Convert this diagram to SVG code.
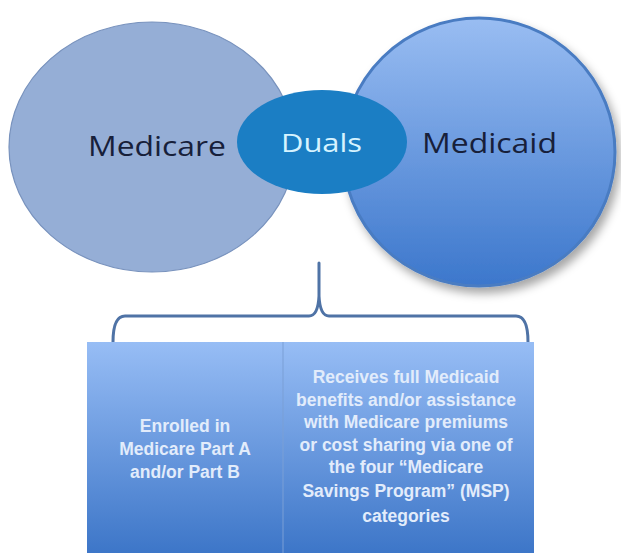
<svg xmlns="http://www.w3.org/2000/svg" width="621" height="553" viewBox="0 0 621 553">
  <style>
    .big { font-family: "Open Sans", "Liberation Sans", sans-serif; font-size: 27px; fill: #17203a; }
    .duals { font-family: "Open Sans", "Liberation Sans", sans-serif; font-size: 25px; fill: #d6f3ff; }
    .box { font-family: "Liberation Sans", "DejaVu Sans", sans-serif; font-size: 17.5px; font-weight: bold; fill: #e2ecfb; text-anchor: middle; }
  </style>
  <defs>
    <linearGradient id="medicaidFill" x1="0" y1="0" x2="0" y2="1">
      <stop offset="0" stop-color="#99bdf2"/>
      <stop offset="1" stop-color="#3c77cc"/>
    </linearGradient>
    <linearGradient id="boxFill" x1="0" y1="0" x2="0" y2="1">
      <stop offset="0" stop-color="#97bdf5"/>
      <stop offset="1" stop-color="#3d76c8"/>
    </linearGradient>
    <filter id="shadow" x="-20%" y="-20%" width="140%" height="140%">
      <feDropShadow dx="4" dy="6" stdDeviation="5" flood-color="#000" flood-opacity="0.35"/>
    </filter>
  </defs>
  <rect width="621" height="553" fill="#ffffff"/>

  <!-- Medicare set -->
  <g id="medicare">
    <ellipse cx="152" cy="147" rx="143" ry="125" fill="#95aed6" stroke="#7892bd" stroke-width="1.2"/>
    <text class="big" x="88" y="156" textLength="138" lengthAdjust="spacingAndGlyphs">Medicare</text>
  </g>

  <!-- Medicaid set -->
  <g id="medicaid">
    <ellipse cx="479" cy="152" rx="136" ry="134" fill="url(#medicaidFill)" stroke="#4a7cc2" stroke-width="3" filter="url(#shadow)"/>
    <text class="big" x="422" y="153" textLength="135" lengthAdjust="spacingAndGlyphs">Medicaid</text>
  </g>

  <!-- Overlap: dual eligibles -->
  <g id="duals">
    <ellipse cx="322" cy="142" rx="85" ry="52" fill="#1b7ec4"/>
    <text class="duals" x="281" y="152" textLength="81" lengthAdjust="spacingAndGlyphs">Duals</text>
  </g>

  <!-- Brace linking the overlap to the criteria -->
  <g id="connectors">
    <path d="M113 342 Q113 316 125 316 L309 316 Q318 316 319 296 L319 263 L319 296 Q320 316 329 316 L516 316 Q528 316 528 342"
          fill="none" stroke="#4f73a6" stroke-width="3" stroke-linejoin="round"/>
  </g>

  <!-- Criteria boxes -->
  <g id="criteria-medicare">
    <rect x="87" y="342" width="196" height="211" fill="url(#boxFill)"/>
    <text class="box" x="185" y="432">Enrolled in</text>
    <text class="box" x="185" y="455">Medicare Part A</text>
    <text class="box" x="185" y="478">and/or Part B</text>
  </g>
  <g id="criteria-medicaid">
    <rect x="283" y="342" width="251" height="211" fill="url(#boxFill)"/>
    <line x1="283" y1="342" x2="283" y2="553" stroke="#7a9fd6" stroke-width="1"/>
    <text class="box" x="406" y="383">Receives full Medicaid</text>
    <text class="box" x="406" y="406">benefits and/or assistance</text>
    <text class="box" x="406" y="428">with Medicare premiums</text>
    <text class="box" x="406" y="451">or cost sharing via one of</text>
    <text class="box" x="406" y="473">the four “Medicare</text>
    <text class="box" x="406" y="497">Savings Program” (MSP)</text>
    <text class="box" x="406" y="522">categories</text>
  </g>
</svg>
